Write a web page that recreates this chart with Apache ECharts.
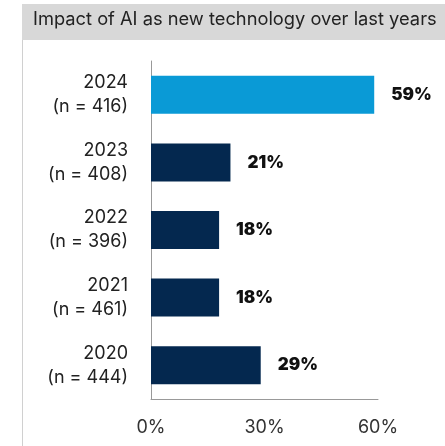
<!DOCTYPE html>
<html>
<head>
<meta charset="utf-8">
<script src="https://cdn.jsdelivr.net/npm/echarts@6/dist/echarts.min.js"></script>
<style>
html,body{margin:0;padding:0;background:#fff;}
#c{width:445px;height:446px;}
</style>
</head>
<body>
<div id="c"></div>
<script>
const titleText = 'Impact of AI as new technology over last years';
const years = ['2024', '2023', '2022', '2021', '2020'];
const sampleSizes = [416, 408, 396, 461, 444];
const shares = [59, 21, 18, 18, 29];
const barColors = ['#0a9ad6', '#04284f', '#04284f', '#04284f', '#04284f'];
const xTicks = [0, 30, 60];

const FONT = 'Inter, "Open Sans", sans-serif';
const categories = years.map((y, i) => y + '\n(n = ' + sampleSizes[i] + ')');

const chart = echarts.init(document.getElementById('c'), null, {renderer: 'canvas'});
chart.setOption({
  backgroundColor: '#fff',
  animation: false,
  graphic: [
    {type: 'rect', shape: {x: 22, y: 4, width: 430, height: 36}, style: {fill: '#d8d8d8'}, z: 0},
    {type: 'line', shape: {x1: 22.5, y1: 40, x2: 22.5, y2: 446}, style: {stroke: '#d0d0d0', lineWidth: 1}, z: 0},
    {type: 'text', left: 33, top: 11, style: {text: titleText, font: '400 18.3px ' + FONT, fill: '#222'}, z: 1}
  ],
  grid: {left: 151, right: 67, top: 61, bottom: 47, containLabel: false},
  xAxis: {
    type: 'value', min: xTicks[0], max: xTicks[xTicks.length - 1], interval: 30,
    axisLine: {show: true, lineStyle: {color: '#999', width: 1}},
    axisTick: {show: false},
    splitLine: {show: false},
    axisLabel: {formatter: '{value}%', fontSize: 18, color: '#333', margin: 20, fontFamily: FONT}
  },
  yAxis: {
    type: 'category', data: categories, inverse: true,
    axisLine: {show: true, lineStyle: {color: '#999', width: 1}},
    axisTick: {show: false},
    axisLabel: {fontSize: 18, lineHeight: 24, color: '#222', align: 'right', margin: 23, fontFamily: FONT, padding: [8, 0, 0, 0]}
  },
  series: [{
    type: 'bar',
    data: shares.map((v, i) => ({value: v, itemStyle: {color: barColors[i]}})),
    barWidth: 38,
    label: {show: true, position: 'right', distance: 17, formatter: '{c}%', fontSize: 17, fontWeight: 900, color: '#111', fontFamily: FONT}
  }]
});
</script>
</body>
</html>
